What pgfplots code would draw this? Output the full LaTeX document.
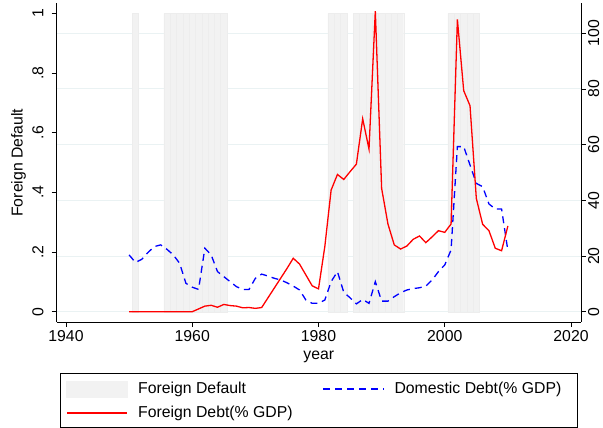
\documentclass[border=0pt]{standalone}
\usepackage{fontspec}
\setmainfont{Liberation Sans}
\usepackage{pgfplots}
\pgfplotsset{compat=1.18}
\definecolor{gridc}{RGB}{234,242,243}
\definecolor{barc}{RGB}{242,242,242}
\definecolor{barline}{RGB}{237,237,237}
\newcommand{\fs}{\fontsize{15.8pt}{19pt}\selectfont}
\begin{document}
\fs
\begin{tikzpicture}
\useasboundingbox (-56.7pt,-106pt) rectangle (546.3pt,322pt);
\pgfplotsset{
  common/.style={
    scale only axis, width=524.3pt, height=318.7pt,
    xmin=1938.53, xmax=2021.58,
    /pgf/number format/assume math mode=true,
    tick label style={font=\fs},
    label style={font=\fs},
    tick align=outside, major tick length=5pt,
    axis line style={-, line width=0.8pt},
    major tick style={line width=0.8pt, black},
    minor tick num=0,
  }
}
% right axis with grid
\begin{axis}[common,
  ymin=-3.70, ymax=110.78,
  axis y line*=right, axis x line=none,
  ytick={0,20,40,60,80,100},
  ymajorgrids, grid style={gridc, line width=1pt},
  yticklabel style={rotate=90, anchor=north, inner sep=0pt},
  yticklabel shift=2pt,
  xtick=\empty,
]
\end{axis}
% left axis with default bars
\begin{axis}[common,
  ymin=-0.0345, ymax=1.0335,
  axis y line*=left, axis x line*=bottom,
  ytick={0,0.2,0.4,0.6,0.8,1},
  yticklabels={0,.2,.4,.6,.8,1},
  yticklabel style={rotate=90, anchor=south, inner sep=0pt},
  yticklabel shift=8pt,
  xtick={1940,1960,1980,2000,2020},
  xticklabels={1940,1960,1980,2000,2020},
  xticklabel style={anchor=base, inner sep=0pt},
  xticklabel shift=15pt,
  xlabel={year},
  xlabel style={at={(axis description cs:0.5,0)}, anchor=base, inner sep=0pt, yshift=-38pt},
  ylabel={Foreign Default},
  ylabel style={at={(axis description cs:-0.05855,0.5)}, rotate=0, anchor=south, inner sep=0pt},
]
\addplot[ybar, bar width=1, bar shift=0pt, fill=barc, draw=barline, line width=0.3pt] coordinates {
(1951,1)
(1956,1) (1957,1) (1958,1) (1959,1) (1960,1) (1961,1) (1962,1) (1963,1) (1964,1) (1965,1)
(1982,1) (1983,1) (1984,1)
(1986,1) (1987,1) (1988,1) (1989,1) (1990,1) (1991,1) (1992,1) (1993,1)
(2001,1) (2002,1) (2003,1) (2004,1) (2005,1)
};
\end{axis}
% lines on right scale
\begin{axis}[common,
  ymin=-3.70, ymax=110.78, hide axis,
  legend columns=2,
  legend cell align=left,
  legend image code/.code={\draw[#1] (0pt,0pt) -- (60.7pt,0pt);},
  legend style={draw=black, line width=0.8pt, fill=white,
    at={(0.5,-0.161)}, anchor=north,
    inner xsep=6pt, inner ysep=7pt, row sep=8pt,
    nodes={inner sep=0pt, text height=11.5pt, text depth=3.5pt},
    font=\fs,
    /tikz/every odd column/.style={column sep=10pt},
    /tikz/every even column/.style={column sep=0pt}},
]
\addlegendimage{legend image code/.code={\fill[barc] (0pt,-8pt) rectangle (60.7pt,8pt);}}
\addlegendentry{\makebox[184.4pt][l]{Foreign Default}}
\addplot[blue, line width=1.3pt, dash pattern=on 7pt off 5pt] coordinates {
(1950,20.4) (1951,17.7) (1952,18.8) (1953,21.3) (1954,23.4) (1955,24.0) (1956,22.4) (1957,20.4) (1958,17.4) (1959,10.2)
(1960,8.8) (1961,8.0) (1962,22.8) (1963,20.4) (1964,14.4) (1965,12.6) (1966,10.8) (1967,9.0) (1968,8.0) (1969,8.0)
(1970,12.0) (1971,13.5) (1972,12.8) (1973,12.0) (1974,11.4) (1975,10.4) (1976,9.2) (1977,7.8) (1978,4.2) (1979,3.0)
(1980,3.0) (1981,4.2) (1982,10.8) (1983,14.4) (1984,7.0) (1985,5.0) (1986,2.8) (1987,4.4) (1988,3.0) (1989,10.8)
(1990,3.8) (1991,3.8) (1992,5.4) (1993,6.8) (1994,7.8) (1995,8.3) (1996,8.6) (1997,9.2) (1998,11.4) (1999,14.4)
(2000,16.8) (2001,22.2) (2002,59.3) (2003,59.3) (2004,52.7) (2005,46.1) (2006,44.9) (2007,38.7) (2008,36.9) (2009,36.9)
(2010,21.9)
};
\addlegendentry{\makebox[177pt][l]{Domestic Debt(\% GDP)}}
\addplot[red, line width=1.3pt] coordinates {
(1950,0) (1951,0) (1952,0) (1953,0) (1954,0) (1955,0) (1956,0) (1957,0) (1958,0) (1959,0)
(1960,0) (1961,1.0) (1962,2.0) (1963,2.3) (1964,1.6) (1965,2.6) (1966,2.2) (1967,2.0) (1968,1.4) (1969,1.5)
(1970,1.2) (1971,1.5) (1972,5.0) (1973,8.5) (1974,12.0) (1975,15.5) (1976,19.2) (1977,17.1) (1978,13.2) (1979,9.3)
(1980,8.2) (1981,23.4) (1982,43.7) (1983,49.3) (1984,47.5) (1985,50.3) (1986,53.0) (1987,69.3) (1988,58.4) (1989,108.0)
(1990,44.3) (1991,31.5) (1992,24.0) (1993,22.5) (1994,23.6) (1995,26.0) (1996,27.2) (1997,24.8) (1998,26.9) (1999,29.1)
(2000,28.5) (2001,31.5) (2002,105.0) (2003,79.4) (2004,74.0) (2005,40.7) (2006,31.4) (2007,29.1) (2008,22.8) (2009,21.9)
(2010,30.8)
};
\addlegendentry{\makebox[184.4pt][l]{Foreign Debt(\% GDP)}}
\end{axis}
\end{tikzpicture}
\end{document}
